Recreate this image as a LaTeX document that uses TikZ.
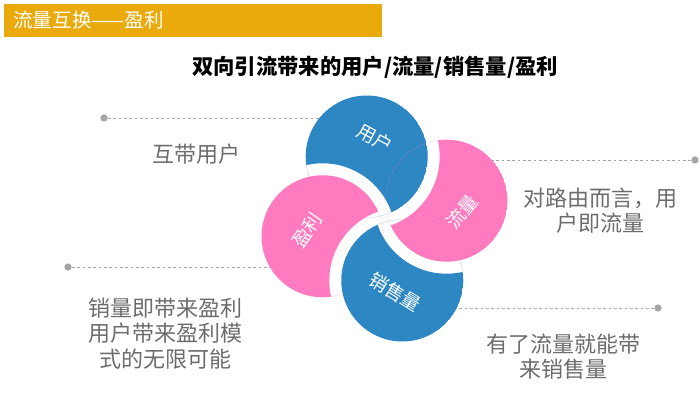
\documentclass[tikz,border=0pt]{standalone}
\usepackage{fontspec}
\newfontfamily\cjk{Noto Sans CJK SC}
\usetikzlibrary{positioning}
\definecolor{petalblue}{RGB}{45,135,195}
\definecolor{petalpink}{RGB}{255,122,190}
\definecolor{bannergold}{RGB}{234,170,12}
\definecolor{notegray}{RGB}{108,108,108}
\definecolor{leadergray}{RGB}{165,165,165}

\begin{document}
\begin{tikzpicture}[x=0.75pt, y=0.75pt,
		petal/.style={font=\cjk\fontsize{14}{16}\selectfont, text=white, inner sep=1pt},
		note/.style={font=\cjk\fontsize{16.5}{19}\selectfont, text=notegray, align=center},
		dot/.style={circle, fill=leadergray, inner sep=0pt, minimum size=5.5pt},
		leader/.style={leadergray, dash pattern=on 2pt off 2pt, line width=0.6pt}]
		
		\useasboundingbox (0,0) rectangle (700,405);
		
		\fill[bannergold] (4,368) rectangle (382,401);
		\node[anchor=west, text=white, font=\cjk\fontsize{14.7}{17}\selectfont, inner sep=0pt] (banner) at (13,384.5) {流量互换——盈利};
		\node[font=\cjk\bfseries\fontsize{16}{19}\selectfont] (title) at (375,338) {双向引流带来的用户/流量/销售量/盈利};
		
		\coordinate (hub) at (384.5,186.5);
		\coordinate (users) at ([shift={(106:64.5)}]hub);
		\coordinate (profit) at ([shift={(196:64.5)}]hub);
		\coordinate (sales) at ([shift={(286:64.5)}]hub);
		\coordinate (traffic) at ([shift={(16:64.5)}]hub);
		
		\node[dot] (d1) at (104,287) {};
		\node[dot] (d2) at (695,245) {};
		\node[dot] (d3) at (68,138) {};
		\node[dot] (d4) at (658,97) {};
		\coordinate (e1) at (340,287);
		\coordinate (e2) at (480,245);
		\coordinate (e3) at (290,138);
		\coordinate (e4) at (440,97);
		\draw[leader] (d1) -- (e1);
		\draw[leader] (d2) -- (e2);
		\draw[leader] (d3) -- (e3);
		\draw[leader] (d4) -- (e4);
		
		\begin{scope}
			\clip (users) circle (61);
			\fill[petalblue, even odd rule] (users) circle (61) (profit) circle (73);
		\end{scope}
		\begin{scope}
			\clip (profit) circle (61);
			\fill[petalpink, even odd rule] (profit) circle (61) (sales) circle (73);
		\end{scope}
		\begin{scope}
			\clip (sales) circle (61);
			\fill[petalblue, even odd rule] (sales) circle (61) (traffic) circle (73);
		\end{scope}
		\begin{scope}
			\clip (traffic) circle (61);
			\fill[petalpink, even odd rule] (traffic) circle (61) (users) circle (73);
		\end{scope}
		
		\node[petal, rotate=-28] (lusers) at (375,267) {用户};
		\node[petal, rotate=55] (lprofit) at (307,175) {盈利};
		\node[petal, rotate=50] (ltraffic) at (462,193) {流量};
		\node[petal, rotate=-32] (lsales) at (395,113) {销售量};
		
		\node[note] (n1) at (196,251) {互带用户};
		\node[note] (n2) at (600,194.5) {对路由而言，用\\户即流量};
		\node[note] (n3) at (165,71.5) {销量即带来盈利\\用户带来盈利模\\式的无限可能};
		\node[note] (n4) at (563,48.5) {有了流量就能带\\来销售量};
	\end{tikzpicture}
\end{document}
